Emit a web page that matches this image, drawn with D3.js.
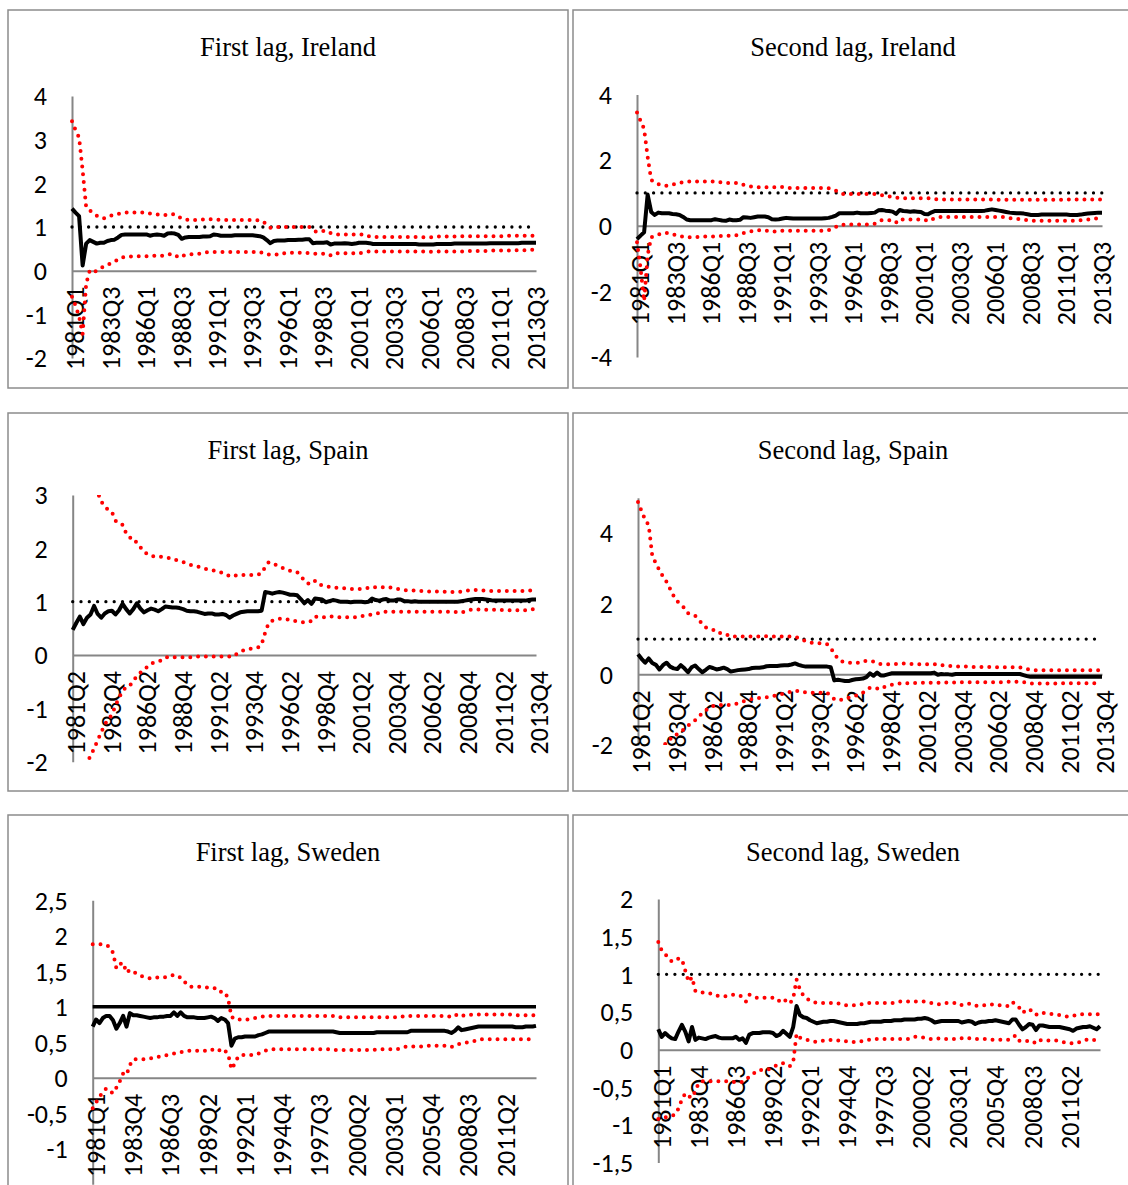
<!DOCTYPE html>
<html>
<head>
<meta charset="utf-8">
<script src="https://cdn.jsdelivr.net/npm/d3@7"></script>
<style>
body { margin: 0; background: #fff; }
svg { display: block; }
.title { font-family: "Liberation Serif", "Times New Roman", serif; font-size: 26.5px; fill: #000; }
.tick text { font-family: Carlito, Lato, sans-serif; font-size: 26px; fill: #000; }
</style>
</head>
<body>
<svg id="chart" width="1128" height="1185"></svg>
<script>
// quarterly category labels
function quarters(year, q, count) {
  var out = [];
  for (var i = 0; i < count; i++) {
    out.push(year + "Q" + q);
    q++;
    if (q > 4) { q = 1; year++; }
  }
  return out;
}
var irelandQuarters = quarters(1981, 1, 132);
var spainQuarters = quarters(1981, 2, 131);
var swedenQuarters = quarters(1981, 1, 132);

var refLevel = 1;

// y tick labels
var irelandFirstTicks = [-2, -1, 0, 1, 2, 3, 4];
var irelandSecondTicks = [-4, -2, 0, 2, 4];
var spainFirstTicks = [-2, -1, 0, 1, 2, 3];
var spainSecondTicks = [-2, 0, 2, 4];
var swedenFirstTicks = [-1, -0.5, 0, 0.5, 1, 1.5, 2, 2.5];
var swedenSecondTicks = [-1.5, -1, -0.5, 0, 0.5, 1, 1.5, 2];

// First lag, Ireland
var irelandFirstCoef = [
  1.42, 1.33, 1.25, 0.12, 0.62, 0.70, 0.66, 0.62, 0.64, 0.64,
  0.68, 0.70, 0.71, 0.76, 0.82, 0.83, 0.83, 0.83, 0.83, 0.83,
  0.83, 0.83, 0.80, 0.82, 0.83, 0.82, 0.80, 0.85, 0.86, 0.85,
  0.82, 0.73, 0.76, 0.77, 0.77, 0.77, 0.77, 0.78, 0.78, 0.79,
  0.83, 0.82, 0.80, 0.80, 0.80, 0.80, 0.81, 0.81, 0.81, 0.81,
  0.81, 0.81, 0.80, 0.79, 0.76, 0.70, 0.63, 0.68, 0.69, 0.69,
  0.69, 0.70, 0.70, 0.70, 0.71, 0.71, 0.72, 0.72, 0.63, 0.64,
  0.64, 0.64, 0.65, 0.60, 0.62, 0.62, 0.62, 0.63, 0.62, 0.61,
  0.62, 0.64, 0.64, 0.64, 0.63, 0.61, 0.61, 0.61, 0.61, 0.61,
  0.61, 0.61, 0.61, 0.61, 0.61, 0.61, 0.61, 0.61, 0.60, 0.60,
  0.60, 0.60, 0.60, 0.61, 0.61, 0.61, 0.61, 0.61, 0.62, 0.62,
  0.62, 0.62, 0.62, 0.62, 0.62, 0.62, 0.62, 0.62, 0.63, 0.63,
  0.63, 0.63, 0.63, 0.63, 0.63, 0.63, 0.63, 0.64, 0.64, 0.64,
  0.64, 0.64];
var irelandFirstUpper = [
  3.42, 3.22, 3.05, 2.30, 1.45, 1.38, 1.32, 1.26, 1.22, 1.20,
  1.22, 1.26, 1.28, 1.30, 1.32, 1.33, 1.33, 1.33, 1.33, 1.33,
  1.33, 1.33, 1.31, 1.30, 1.29, 1.28, 1.27, 1.28, 1.30, 1.29,
  1.24, 1.19, 1.17, 1.16, 1.16, 1.16, 1.16, 1.17, 1.17, 1.18,
  1.18, 1.17, 1.16, 1.16, 1.16, 1.16, 1.16, 1.16, 1.16, 1.16,
  1.16, 1.16, 1.16, 1.15, 1.12, 1.05, 0.98, 1.00, 1.00, 1.00,
  1.00, 1.00, 1.00, 1.00, 1.00, 1.00, 1.00, 1.00, 0.93, 0.89,
  0.91, 0.91, 0.91, 0.86, 0.83, 0.83, 0.83, 0.83, 0.83, 0.83,
  0.83, 0.83, 0.83, 0.82, 0.78, 0.77, 0.77, 0.77, 0.77, 0.77,
  0.77, 0.77, 0.77, 0.77, 0.77, 0.77, 0.77, 0.77, 0.77, 0.77,
  0.76, 0.76, 0.77, 0.78, 0.78, 0.78, 0.78, 0.78, 0.78, 0.78,
  0.79, 0.79, 0.79, 0.79, 0.79, 0.79, 0.79, 0.79, 0.79, 0.79,
  0.79, 0.79, 0.79, 0.80, 0.80, 0.80, 0.80, 0.80, 0.80, 0.80,
  0.80, 0.80];
var irelandFirstLower = [
  -0.60, -0.80, -1.05, -1.45, -0.30, 0.00, -0.04, 0.00, 0.05, 0.10,
  0.13, 0.17, 0.20, 0.26, 0.30, 0.32, 0.32, 0.33, 0.33, 0.33,
  0.33, 0.33, 0.33, 0.34, 0.34, 0.34, 0.35, 0.37, 0.38, 0.37,
  0.30, 0.33, 0.36, 0.37, 0.38, 0.38, 0.39, 0.40, 0.42, 0.43,
  0.43, 0.43, 0.43, 0.43, 0.43, 0.43, 0.43, 0.43, 0.43, 0.43,
  0.43, 0.43, 0.43, 0.43, 0.40, 0.37, 0.37, 0.37, 0.37, 0.37,
  0.40, 0.41, 0.41, 0.41, 0.41, 0.41, 0.41, 0.40, 0.39, 0.39,
  0.39, 0.39, 0.39, 0.35, 0.40, 0.40, 0.40, 0.40, 0.40, 0.40,
  0.40, 0.39, 0.42, 0.43, 0.44, 0.44, 0.44, 0.44, 0.44, 0.44,
  0.44, 0.44, 0.44, 0.44, 0.44, 0.44, 0.44, 0.44, 0.44, 0.44,
  0.44, 0.43, 0.44, 0.44, 0.44, 0.44, 0.44, 0.44, 0.44, 0.44,
  0.44, 0.44, 0.45, 0.45, 0.45, 0.45, 0.45, 0.45, 0.45, 0.46,
  0.46, 0.46, 0.46, 0.46, 0.46, 0.47, 0.47, 0.47, 0.47, 0.48,
  0.48, 0.48];

// Second lag, Ireland
var irelandSecondCoef = [
  -0.41, -0.30, -0.20, 0.95, 0.42, 0.33, 0.40, 0.38, 0.38, 0.38,
  0.36, 0.35, 0.33, 0.27, 0.19, 0.17, 0.17, 0.17, 0.17, 0.17,
  0.17, 0.17, 0.20, 0.18, 0.16, 0.15, 0.19, 0.17, 0.17, 0.18,
  0.26, 0.25, 0.24, 0.26, 0.28, 0.28, 0.28, 0.26, 0.20, 0.19,
  0.20, 0.22, 0.24, 0.23, 0.22, 0.22, 0.22, 0.22, 0.22, 0.22,
  0.22, 0.22, 0.22, 0.23, 0.24, 0.27, 0.31, 0.38, 0.38, 0.38,
  0.38, 0.38, 0.40, 0.38, 0.38, 0.38, 0.39, 0.40, 0.47, 0.48,
  0.46, 0.45, 0.43, 0.36, 0.48, 0.45, 0.44, 0.43, 0.44, 0.43,
  0.42, 0.36, 0.35, 0.41, 0.45, 0.45, 0.45, 0.45, 0.45, 0.45,
  0.45, 0.45, 0.45, 0.45, 0.45, 0.45, 0.45, 0.45, 0.46, 0.48,
  0.50, 0.48, 0.46, 0.44, 0.42, 0.40, 0.39, 0.38, 0.38, 0.37,
  0.35, 0.33, 0.33, 0.33, 0.34, 0.34, 0.34, 0.34, 0.34, 0.34,
  0.34, 0.34, 0.33, 0.33, 0.33, 0.34, 0.36, 0.37, 0.38, 0.39,
  0.40, 0.40];
var irelandSecondUpper = [
  3.45, 3.20, 2.95, 2.10, 1.40, 1.32, 1.27, 1.24, 1.22, 1.22,
  1.25, 1.28, 1.31, 1.32, 1.34, 1.35, 1.35, 1.35, 1.35, 1.35,
  1.35, 1.35, 1.35, 1.33, 1.32, 1.31, 1.30, 1.30, 1.30, 1.30,
  1.25, 1.22, 1.20, 1.18, 1.17, 1.17, 1.17, 1.17, 1.17, 1.18,
  1.19, 1.18, 1.15, 1.15, 1.15, 1.15, 1.15, 1.15, 1.15, 1.15,
  1.15, 1.15, 1.15, 1.15, 1.14, 1.12, 1.07, 1.01, 0.97, 0.97,
  0.97, 0.97, 0.97, 0.97, 0.97, 0.97, 0.97, 0.97, 0.95, 0.93,
  0.90, 0.89, 0.88, 0.86, 0.84, 0.84, 0.84, 0.84, 0.84, 0.84,
  0.84, 0.84, 0.84, 0.83, 0.81, 0.80, 0.80, 0.80, 0.80, 0.80,
  0.80, 0.80, 0.80, 0.80, 0.80, 0.80, 0.80, 0.80, 0.80, 0.80,
  0.80, 0.79, 0.79, 0.79, 0.79, 0.79, 0.79, 0.79, 0.79, 0.79,
  0.79, 0.79, 0.79, 0.79, 0.79, 0.79, 0.79, 0.79, 0.79, 0.79,
  0.80, 0.80, 0.80, 0.80, 0.80, 0.80, 0.80, 0.80, 0.80, 0.80,
  0.80, 0.80];
var irelandSecondLower = [
  -0.50, -1.30, -2.30, -0.90, -0.35, -0.31, -0.27, -0.23, -0.21, -0.23,
  -0.26, -0.29, -0.31, -0.34, -0.36, -0.35, -0.35, -0.34, -0.34, -0.33,
  -0.33, -0.33, -0.32, -0.32, -0.31, -0.31, -0.30, -0.30, -0.29, -0.26,
  -0.22, -0.19, -0.17, -0.15, -0.14, -0.13, -0.14, -0.16, -0.18, -0.17,
  -0.15, -0.15, -0.15, -0.15, -0.15, -0.15, -0.15, -0.15, -0.15, -0.15,
  -0.15, -0.15, -0.15, -0.15, -0.13, -0.10, -0.04, 0.02, 0.03, 0.04,
  0.04, 0.04, 0.04, 0.04, 0.04, 0.04, 0.04, 0.06, 0.13, 0.17,
  0.17, 0.17, 0.17, 0.10, 0.21, 0.19, 0.19, 0.19, 0.19, 0.19,
  0.19, 0.19, 0.14, 0.19, 0.24, 0.26, 0.27, 0.27, 0.27, 0.27,
  0.27, 0.27, 0.27, 0.27, 0.27, 0.27, 0.27, 0.27, 0.27, 0.27,
  0.27, 0.27, 0.27, 0.27, 0.25, 0.23, 0.22, 0.21, 0.20, 0.19,
  0.17, 0.15, 0.15, 0.15, 0.15, 0.15, 0.15, 0.15, 0.15, 0.15,
  0.15, 0.15, 0.15, 0.15, 0.16, 0.17, 0.18, 0.19, 0.20, 0.22,
  0.23, 0.24];

// First lag, Spain
var spainFirstCoef = [
  0.47, 0.60, 0.72, 0.58, 0.70, 0.76, 0.92, 0.77, 0.70, 0.78,
  0.82, 0.83, 0.76, 0.84, 0.96, 0.86, 0.78, 0.86, 0.97, 0.87,
  0.80, 0.84, 0.87, 0.85, 0.82, 0.86, 0.91, 0.90, 0.89, 0.89,
  0.88, 0.86, 0.83, 0.82, 0.82, 0.81, 0.79, 0.77, 0.78, 0.78,
  0.76, 0.76, 0.77, 0.75, 0.70, 0.74, 0.77, 0.80, 0.81, 0.82,
  0.82, 0.82, 0.82, 0.83, 1.18, 1.17, 1.15, 1.17, 1.18, 1.17,
  1.15, 1.13, 1.13, 1.12, 1.05, 0.97, 1.03, 0.96, 1.06, 1.05,
  1.04, 0.99, 1.01, 1.03, 1.02, 1.00, 1.00, 1.00, 0.99, 1.00,
  1.00, 1.00, 0.99, 1.00, 1.06, 1.03, 1.02, 1.04, 1.05, 1.02,
  1.02, 1.04, 1.04, 1.01, 1.01, 1.00, 1.01, 1.00, 1.00, 1.00,
  1.00, 1.00, 1.00, 1.00, 1.00, 1.00, 1.00, 1.00, 1.00, 1.01,
  1.02, 1.03, 1.04, 1.05, 1.05, 1.05, 1.04, 1.03, 1.02, 1.02,
  1.02, 1.02, 1.02, 1.02, 1.02, 1.02, 1.02, 1.02, 1.03, 1.04,
  1.04];
var spainFirstUpper = [
  6.00, 5.20, 4.50, 4.00, 3.60, 3.35, 3.20, 3.05, 2.88, 2.78,
  2.72, 2.68, 2.52, 2.46, 2.44, 2.28, 2.20, 2.20, 2.10, 2.02,
  1.95, 1.88, 1.86, 1.85, 1.84, 1.84, 1.83, 1.82, 1.80, 1.78,
  1.76, 1.74, 1.72, 1.69, 1.67, 1.66, 1.64, 1.62, 1.60, 1.59,
  1.58, 1.56, 1.54, 1.51, 1.48, 1.47, 1.50, 1.50, 1.50, 1.50,
  1.50, 1.50, 1.51, 1.53, 1.65, 1.74, 1.72, 1.69, 1.66, 1.63,
  1.60, 1.58, 1.57, 1.55, 1.48, 1.40, 1.34, 1.33, 1.39, 1.32,
  1.31, 1.29, 1.28, 1.27, 1.26, 1.25, 1.25, 1.25, 1.24, 1.24,
  1.24, 1.24, 1.25, 1.26, 1.28, 1.27, 1.26, 1.27, 1.28, 1.27,
  1.25, 1.24, 1.23, 1.22, 1.21, 1.21, 1.21, 1.20, 1.20, 1.20,
  1.19, 1.19, 1.19, 1.19, 1.19, 1.18, 1.18, 1.18, 1.18, 1.19,
  1.20, 1.21, 1.22, 1.22, 1.22, 1.21, 1.20, 1.20, 1.20, 1.20,
  1.20, 1.20, 1.20, 1.20, 1.20, 1.20, 1.20, 1.21, 1.21, 1.21,
  1.21];
var spainFirstLower = [
  -3.50, -3.00, -2.60, -2.25, -2.00, -1.90, -1.75, -1.60, -1.45, -1.30,
  -1.20, -1.12, -0.95, -0.80, -0.68, -0.60, -0.58, -0.48, -0.40, -0.33,
  -0.27, -0.22, -0.16, -0.14, -0.12, -0.10, -0.05, -0.03, -0.04, -0.04,
  -0.04, -0.04, -0.04, -0.04, -0.04, -0.03, -0.03, -0.03, -0.03, -0.03,
  -0.03, -0.03, -0.03, -0.03, -0.03, -0.03, 0.02, 0.06, 0.09, 0.11,
  0.12, 0.13, 0.14, 0.20, 0.42, 0.60, 0.64, 0.66, 0.68, 0.68,
  0.67, 0.66, 0.64, 0.63, 0.62, 0.61, 0.62, 0.64, 0.72, 0.71,
  0.70, 0.72, 0.73, 0.72, 0.71, 0.71, 0.71, 0.71, 0.71, 0.71,
  0.71, 0.73, 0.74, 0.75, 0.76, 0.77, 0.79, 0.81, 0.81, 0.81,
  0.81, 0.81, 0.81, 0.81, 0.81, 0.81, 0.81, 0.81, 0.81, 0.81,
  0.81, 0.81, 0.81, 0.81, 0.81, 0.81, 0.81, 0.81, 0.80, 0.79,
  0.82, 0.84, 0.85, 0.86, 0.85, 0.85, 0.85, 0.85, 0.85, 0.85,
  0.85, 0.84, 0.84, 0.84, 0.84, 0.84, 0.83, 0.84, 0.84, 0.86,
  0.86];

// Second lag, Spain
var spainSecondCoef = [
  0.57, 0.44, 0.33, 0.45, 0.32, 0.27, 0.14, 0.26, 0.33, 0.22,
  0.17, 0.15, 0.26, 0.17, 0.06, 0.20, 0.25, 0.15, 0.06, 0.13,
  0.21, 0.18, 0.14, 0.16, 0.19, 0.15, 0.08, 0.10, 0.12, 0.13,
  0.14, 0.15, 0.18, 0.19, 0.19, 0.20, 0.23, 0.24, 0.24, 0.24,
  0.25, 0.26, 0.26, 0.28, 0.31, 0.27, 0.24, 0.22, 0.22, 0.22,
  0.22, 0.22, 0.22, 0.22, 0.20, -0.17, -0.15, -0.17, -0.19, -0.19,
  -0.16, -0.14, -0.13, -0.12, -0.08, 0.03, -0.04, 0.05, -0.03, -0.03,
  0.00, 0.03, 0.03, 0.03, 0.03, 0.03, 0.03, 0.03, 0.03, 0.03,
  0.03, 0.03, 0.03, 0.05, -0.01, 0.01, 0.00, 0.00, -0.01, 0.01,
  0.01, 0.01, 0.01, 0.01, 0.01, 0.01, 0.01, 0.01, 0.01, 0.01,
  0.01, 0.01, 0.01, 0.01, 0.01, 0.01, 0.01, 0.01, -0.02, -0.05,
  -0.07, -0.07, -0.07, -0.07, -0.07, -0.07, -0.07, -0.07, -0.07, -0.07,
  -0.07, -0.07, -0.07, -0.07, -0.07, -0.07, -0.07, -0.07, -0.07, -0.07,
  -0.07];
var spainSecondUpper = [
  4.88, 4.62, 4.38, 4.22, 3.35, 3.15, 2.95, 2.77, 2.62, 2.42,
  2.22, 2.07, 1.97, 1.88, 1.73, 1.70, 1.66, 1.55, 1.43, 1.33,
  1.30, 1.27, 1.18, 1.17, 1.17, 1.12, 1.07, 1.07, 1.07, 1.07,
  1.07, 1.07, 1.07, 1.07, 1.07, 1.08, 1.08, 1.07, 1.07, 1.07,
  1.07, 1.07, 1.07, 1.07, 1.07, 1.03, 0.98, 0.94, 0.91, 0.89,
  0.88, 0.88, 0.88, 0.85, 0.75, 0.58, 0.45, 0.37, 0.34, 0.33,
  0.33, 0.33, 0.33, 0.36, 0.39, 0.37, 0.36, 0.31, 0.29, 0.29,
  0.29, 0.29, 0.29, 0.30, 0.31, 0.31, 0.30, 0.29, 0.29, 0.29,
  0.29, 0.29, 0.29, 0.29, 0.29, 0.26, 0.25, 0.24, 0.23, 0.22,
  0.22, 0.22, 0.22, 0.21, 0.21, 0.21, 0.21, 0.21, 0.21, 0.21,
  0.21, 0.20, 0.20, 0.20, 0.20, 0.20, 0.20, 0.20, 0.18, 0.15,
  0.13, 0.12, 0.12, 0.12, 0.12, 0.12, 0.12, 0.12, 0.12, 0.12,
  0.12, 0.12, 0.12, 0.12, 0.12, 0.12, 0.12, 0.12, 0.12, 0.12,
  0.12];
var spainSecondLower = [
  -4.50, -4.00, -3.50, -3.20, -2.90, -2.60, -2.30, -2.10, -1.90, -1.83,
  -1.80, -1.68, -1.62, -1.55, -1.45, -1.38, -1.30, -1.20, -1.10, -1.02,
  -0.93, -0.90, -0.87, -0.87, -0.87, -0.87, -0.86, -0.84, -0.82, -0.78,
  -0.75, -0.72, -0.70, -0.69, -0.67, -0.66, -0.65, -0.63, -0.61, -0.59,
  -0.57, -0.54, -0.51, -0.49, -0.47, -0.47, -0.49, -0.51, -0.52, -0.52,
  -0.52, -0.52, -0.52, -0.52, -0.62, -0.70, -0.74, -0.72, -0.69, -0.66,
  -0.63, -0.60, -0.58, -0.52, -0.44, -0.38, -0.38, -0.40, -0.42, -0.36,
  -0.33, -0.30, -0.28, -0.26, -0.25, -0.25, -0.25, -0.25, -0.24, -0.24,
  -0.24, -0.24, -0.24, -0.24, -0.24, -0.23, -0.23, -0.23, -0.23, -0.23,
  -0.22, -0.22, -0.22, -0.22, -0.22, -0.22, -0.22, -0.22, -0.22, -0.22,
  -0.22, -0.22, -0.22, -0.21, -0.21, -0.21, -0.21, -0.21, -0.22, -0.24,
  -0.26, -0.26, -0.26, -0.26, -0.26, -0.26, -0.26, -0.26, -0.25, -0.25,
  -0.25, -0.25, -0.25, -0.25, -0.25, -0.25, -0.25, -0.25, -0.25, -0.25,
  -0.25];

// First lag, Sweden
var swedenFirstCoef = [
  0.72, 0.82, 0.77, 0.84, 0.87, 0.87, 0.81, 0.69, 0.77, 0.87,
  0.72, 0.91, 0.88, 0.88, 0.87, 0.86, 0.85, 0.84, 0.85, 0.85,
  0.86, 0.86, 0.87, 0.87, 0.92, 0.87, 0.92, 0.87, 0.85, 0.85,
  0.85, 0.84, 0.84, 0.84, 0.85, 0.86, 0.84, 0.80, 0.84, 0.82,
  0.77, 0.45, 0.55, 0.57, 0.57, 0.58, 0.58, 0.58, 0.58, 0.60,
  0.61, 0.63, 0.65, 0.65, 0.65, 0.65, 0.65, 0.65, 0.65, 0.65,
  0.65, 0.65, 0.65, 0.65, 0.65, 0.65, 0.65, 0.65, 0.65, 0.65,
  0.65, 0.65, 0.64, 0.63, 0.63, 0.63, 0.63, 0.63, 0.63, 0.63,
  0.63, 0.63, 0.63, 0.63, 0.64, 0.64, 0.64, 0.64, 0.64, 0.64,
  0.64, 0.64, 0.64, 0.64, 0.66, 0.66, 0.66, 0.66, 0.66, 0.66,
  0.66, 0.66, 0.66, 0.66, 0.66, 0.65, 0.63, 0.66, 0.71, 0.67,
  0.68, 0.69, 0.70, 0.71, 0.72, 0.72, 0.72, 0.72, 0.72, 0.72,
  0.72, 0.72, 0.72, 0.72, 0.72, 0.71, 0.71, 0.71, 0.72, 0.72,
  0.72, 0.73];
var swedenFirstUpper = [
  1.88, 1.88, 1.88, 1.88, 1.87, 1.84, 1.76, 1.54, 1.60, 1.62,
  1.48, 1.52, 1.49, 1.47, 1.44, 1.42, 1.41, 1.40, 1.40, 1.41,
  1.41, 1.41, 1.42, 1.43, 1.45, 1.43, 1.41, 1.36, 1.30, 1.28,
  1.28, 1.28, 1.28, 1.27, 1.27, 1.27, 1.26, 1.21, 1.21, 1.21,
  1.12, 0.86, 0.82, 0.82, 0.82, 0.82, 0.82, 0.83, 0.84, 0.85,
  0.86, 0.87, 0.87, 0.87, 0.87, 0.87, 0.87, 0.87, 0.87, 0.87,
  0.87, 0.87, 0.87, 0.87, 0.87, 0.87, 0.87, 0.87, 0.87, 0.87,
  0.87, 0.87, 0.87, 0.85, 0.85, 0.85, 0.85, 0.85, 0.85, 0.85,
  0.85, 0.85, 0.85, 0.85, 0.85, 0.85, 0.85, 0.85, 0.85, 0.85,
  0.85, 0.85, 0.87, 0.87, 0.87, 0.87, 0.87, 0.87, 0.87, 0.87,
  0.87, 0.87, 0.87, 0.87, 0.87, 0.87, 0.85, 0.87, 0.90, 0.88,
  0.87, 0.88, 0.89, 0.89, 0.89, 0.89, 0.89, 0.89, 0.89, 0.89,
  0.89, 0.89, 0.89, 0.89, 0.89, 0.88, 0.88, 0.88, 0.88, 0.88,
  0.88, 0.88];
var swedenFirstLower = [
  -0.43, -0.35, -0.27, -0.20, -0.15, -0.19, -0.22, -0.14, -0.05, 0.06,
  0.04, 0.18, 0.26, 0.26, 0.26, 0.26, 0.26, 0.27, 0.28, 0.29,
  0.30, 0.31, 0.32, 0.33, 0.34, 0.35, 0.36, 0.37, 0.38, 0.38,
  0.38, 0.38, 0.38, 0.38, 0.38, 0.40, 0.38, 0.37, 0.41, 0.38,
  0.34, 0.12, 0.20, 0.30, 0.32, 0.32, 0.32, 0.32, 0.32, 0.34,
  0.36, 0.38, 0.40, 0.40, 0.40, 0.40, 0.40, 0.40, 0.40, 0.40,
  0.40, 0.40, 0.40, 0.40, 0.40, 0.40, 0.40, 0.40, 0.40, 0.40,
  0.40, 0.40, 0.39, 0.39, 0.39, 0.39, 0.39, 0.39, 0.39, 0.39,
  0.39, 0.39, 0.39, 0.39, 0.40, 0.40, 0.40, 0.40, 0.40, 0.40,
  0.40, 0.42, 0.43, 0.44, 0.44, 0.44, 0.44, 0.44, 0.45, 0.45,
  0.45, 0.45, 0.45, 0.45, 0.45, 0.44, 0.43, 0.46, 0.47, 0.48,
  0.49, 0.50, 0.51, 0.52, 0.54, 0.54, 0.54, 0.54, 0.54, 0.54,
  0.54, 0.54, 0.54, 0.54, 0.54, 0.54, 0.54, 0.54, 0.54, 0.54,
  0.54, 0.54];

// Second lag, Sweden
var swedenSecondCoef = [
  0.27, 0.17, 0.22, 0.18, 0.15, 0.14, 0.24, 0.33, 0.24, 0.11,
  0.30, 0.13, 0.16, 0.15, 0.14, 0.16, 0.17, 0.18, 0.16, 0.15,
  0.15, 0.15, 0.15, 0.17, 0.13, 0.15, 0.09, 0.20, 0.22, 0.22,
  0.22, 0.23, 0.23, 0.23, 0.22, 0.18, 0.20, 0.25, 0.21, 0.17,
  0.30, 0.58, 0.46, 0.43, 0.42, 0.39, 0.37, 0.35, 0.36, 0.37,
  0.37, 0.38, 0.38, 0.37, 0.36, 0.35, 0.34, 0.34, 0.34, 0.34,
  0.35, 0.35, 0.36, 0.37, 0.37, 0.37, 0.37, 0.38, 0.38, 0.38,
  0.39, 0.39, 0.39, 0.40, 0.40, 0.40, 0.40, 0.41, 0.41, 0.42,
  0.41, 0.39, 0.36, 0.37, 0.38, 0.38, 0.38, 0.38, 0.38, 0.38,
  0.36, 0.37, 0.38, 0.37, 0.34, 0.36, 0.37, 0.37, 0.38, 0.38,
  0.39, 0.38, 0.37, 0.36, 0.35, 0.40, 0.40, 0.33, 0.27, 0.30,
  0.34, 0.33, 0.26, 0.32, 0.32, 0.31, 0.30, 0.30, 0.30, 0.30,
  0.29, 0.28, 0.27, 0.25, 0.28, 0.29, 0.30, 0.30, 0.31, 0.29,
  0.27, 0.31];
var swedenSecondUpper = [
  1.43, 1.32, 1.27, 1.22, 1.17, 1.18, 1.21, 1.20, 1.05, 0.90,
  0.96, 0.78, 0.76, 0.76, 0.76, 0.75, 0.74, 0.72, 0.71, 0.71,
  0.71, 0.72, 0.73, 0.73, 0.72, 0.70, 0.64, 0.73, 0.71, 0.69,
  0.69, 0.69, 0.69, 0.69, 0.69, 0.65, 0.65, 0.68, 0.64, 0.61,
  0.68, 0.93, 0.80, 0.72, 0.68, 0.65, 0.63, 0.62, 0.62, 0.62,
  0.62, 0.62, 0.62, 0.62, 0.60, 0.59, 0.59, 0.59, 0.59, 0.59,
  0.60, 0.61, 0.62, 0.62, 0.62, 0.62, 0.62, 0.62, 0.62, 0.62,
  0.62, 0.63, 0.64, 0.64, 0.64, 0.64, 0.64, 0.64, 0.64, 0.64,
  0.63, 0.62, 0.61, 0.60, 0.61, 0.62, 0.62, 0.62, 0.62, 0.62,
  0.59, 0.60, 0.61, 0.60, 0.58, 0.59, 0.59, 0.59, 0.60, 0.60,
  0.59, 0.59, 0.58, 0.58, 0.58, 0.63, 0.60, 0.56, 0.49, 0.52,
  0.54, 0.50, 0.46, 0.49, 0.49, 0.48, 0.48, 0.47, 0.47, 0.46,
  0.45, 0.44, 0.44, 0.45, 0.46, 0.47, 0.47, 0.47, 0.47, 0.47,
  0.47, 0.47];
var swedenSecondLower = [
  -0.92, -0.92, -0.90, -0.89, -0.88, -0.86, -0.78, -0.66, -0.58, -0.62,
  -0.64, -0.55, -0.44, -0.42, -0.42, -0.42, -0.42, -0.42, -0.42, -0.42,
  -0.42, -0.42, -0.43, -0.43, -0.43, -0.43, -0.40, -0.36, -0.33, -0.29,
  -0.27, -0.27, -0.26, -0.26, -0.24, -0.21, -0.19, -0.18, -0.21, -0.22,
  -0.17, 0.21, 0.16, 0.15, 0.13, 0.12, 0.11, 0.10, 0.11, 0.12,
  0.13, 0.13, 0.12, 0.12, 0.12, 0.11, 0.11, 0.10, 0.10, 0.10,
  0.11, 0.12, 0.13, 0.13, 0.14, 0.14, 0.14, 0.14, 0.14, 0.14,
  0.14, 0.14, 0.14, 0.14, 0.14, 0.16, 0.17, 0.17, 0.16, 0.16,
  0.15, 0.14, 0.15, 0.15, 0.14, 0.14, 0.14, 0.14, 0.14, 0.15,
  0.15, 0.14, 0.15, 0.15, 0.14, 0.14, 0.14, 0.14, 0.14, 0.13,
  0.13, 0.13, 0.13, 0.13, 0.13, 0.16, 0.19, 0.12, 0.11, 0.11,
  0.12, 0.11, 0.08, 0.12, 0.13, 0.12, 0.12, 0.12, 0.12, 0.11,
  0.10, 0.09, 0.09, 0.08, 0.09, 0.10, 0.12, 0.13, 0.14, 0.13,
  0.12, 0.12];

// layout of the six panels
var panels = [
  { title: "First lag, Ireland", box: [8, 10], cats: irelandQuarters, step: 10,
    x0: 72, x1: 536, yTop: 96, yBot: 358, domain: [-2, 4], ticks: irelandFirstTicks,
    coef: irelandFirstCoef, upper: irelandFirstUpper, lower: irelandFirstLower, solidRef: false },
  { title: "Second lag, Ireland", box: [573, 10], cats: irelandQuarters, step: 10,
    x0: 637, x1: 1102, yTop: 94.5, yBot: 357, domain: [-4, 4], ticks: irelandSecondTicks,
    coef: irelandSecondCoef, upper: irelandSecondUpper, lower: irelandSecondLower, solidRef: false },
  { title: "First lag, Spain", box: [8, 413], cats: spainQuarters, step: 10,
    x0: 72.7, x1: 536, yTop: 495, yBot: 761.7, domain: [-2, 3], ticks: spainFirstTicks,
    coef: spainFirstCoef, upper: spainFirstUpper, lower: spainFirstLower, solidRef: false },
  { title: "Second lag, Spain", box: [573, 413], cats: spainQuarters, step: 10,
    x0: 638, x1: 1102, yTop: 497.8, yBot: 745, domain: [-2, 5], ticks: spainSecondTicks,
    coef: spainSecondCoef, upper: spainSecondUpper, lower: spainSecondLower, solidRef: false },
  { title: "First lag, Sweden", box: [8, 815], cats: swedenQuarters, step: 11,
    x0: 92.7, x1: 536, yTop: 900.2, yBot: 1184.2, domain: [-1.5, 2.5], ticks: swedenFirstTicks,
    coef: swedenFirstCoef, upper: swedenFirstUpper, lower: swedenFirstLower, solidRef: true },
  { title: "Second lag, Sweden", box: [573, 815], cats: swedenQuarters, step: 11,
    x0: 658.3, x1: 1100, yTop: 899, yBot: 1162.6, domain: [-1.5, 2], ticks: swedenSecondTicks,
    coef: swedenSecondCoef, upper: swedenSecondUpper, lower: swedenSecondLower, solidRef: false }
];

var fmt = function(v) { return String(v).replace(".", ","); };
var axisGrey = "#868686";
var svg = d3.select("#chart");
var defs = svg.append("defs");

panels.forEach(function(p, k) {
  var g = svg.append("g");
  var bx = p.box[0], by = p.box[1];

  g.append("rect")
    .attr("x", bx).attr("y", by).attr("width", 560).attr("height", 378)
    .attr("fill", "none").attr("stroke", "#8c8c8c").attr("stroke-width", 1.5);

  g.append("text").attr("class", "title")
    .attr("x", bx + 280).attr("y", by + 46)
    .attr("text-anchor", "middle")
    .text(p.title);

  var x = d3.scalePoint().domain(p.cats).range([p.x0, p.x1]);
  var y = d3.scaleLinear().domain(p.domain).range([p.yBot, p.yTop]);

  // vertical axis
  var ya = g.append("g")
    .attr("transform", "translate(" + p.x0 + ",0)")
    .call(d3.axisLeft(y).tickValues(p.ticks).tickFormat(fmt).tickSize(0).tickSizeOuter(0).tickPadding(25));
  ya.select(".domain").attr("stroke", axisGrey).attr("stroke-width", 2);
  ya.selectAll(".tick text").attr("dy", "0.34em");

  // horizontal axis at zero, rotated quarter labels
  var xa = g.append("g")
    .attr("transform", "translate(0," + y(0) + ")")
    .call(d3.axisBottom(x)
      .tickValues(p.cats.filter(function(d, i) { return i % p.step === 0; }))
      .tickSize(0).tickSizeOuter(0));
  xa.select(".domain").attr("stroke", axisGrey).attr("stroke-width", 2);
  xa.selectAll(".tick text")
    .attr("transform", "rotate(-90)")
    .attr("x", -16).attr("y", 3).attr("dy", "0.34em")
    .attr("text-anchor", "end");

  // plot-area clip
  defs.append("clipPath").attr("id", "clip" + k)
    .append("rect")
    .attr("x", p.x0 - 4).attr("y", p.yTop)
    .attr("width", p.x1 - p.x0 + 8).attr("height", p.yBot - p.yTop);
  var plot = g.append("g").attr("clip-path", "url(#clip" + k + ")");

  // reference level
  var ref = plot.append("line")
    .attr("x1", x(p.cats[0])).attr("x2", x(p.cats[p.cats.length - 1]))
    .attr("y1", y(refLevel)).attr("y2", y(refLevel))
    .attr("stroke", "#000");
  if (p.solidRef) {
    ref.attr("stroke-width", 3.6);
  } else {
    ref.attr("stroke-width", 3.3).attr("stroke-dasharray", "0 8.3").attr("stroke-linecap", "round");
  }

  var line = d3.line()
    .x(function(d, i) { return x(p.cats[i]); })
    .y(function(d) { return y(d); });

  plot.append("path").datum(p.coef)
    .attr("d", line).attr("fill", "none")
    .attr("stroke", "#000").attr("stroke-width", 4).attr("stroke-linejoin", "round");

  [p.upper, p.lower].forEach(function(band) {
    plot.append("path").datum(band)
      .attr("d", line).attr("fill", "none")
      .attr("stroke", "#ff0000").attr("stroke-width", 4)
      .attr("stroke-dasharray", "0 7.8").attr("stroke-linecap", "round");
  });
});
</script>
</body>
</html>
